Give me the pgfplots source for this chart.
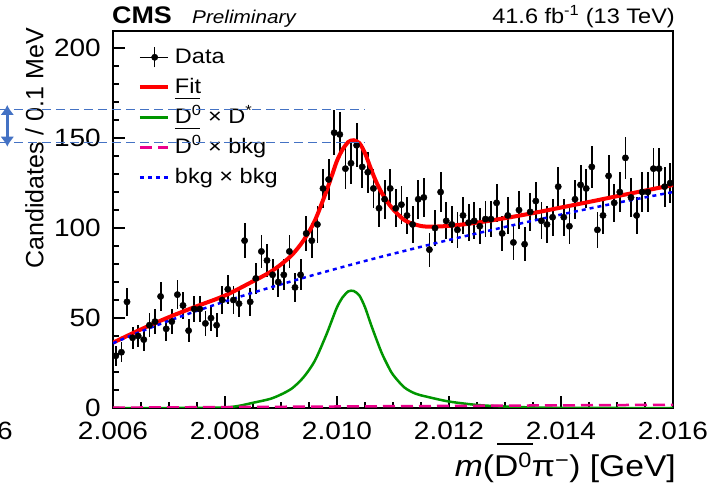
\documentclass[border=0pt]{standalone}
\usepackage{pgfplots}
\pgfplotsset{compat=1.18}
\usepackage{pgfplotstable}
\usepackage{fontspec}
\setmainfont{Liberation Sans}
\newfontfamily\sfst{Liberation Sans}[FakeStretch=1.12]
\usetikzlibrary{arrows.meta}
\definecolor{rootgreen}{RGB}{0,150,0}
\definecolor{annot}{RGB}{68,114,196}

% x = m - 2.006 GeV, in MeV (bin centres, 0.1 MeV bins)
\pgfplotstableread{
x y e
0.05 29 5.4
0.15 31 5.6
0.25 59 7.7
0.35 39 6.2
0.45 40 6.3
0.55 38 6.2
0.65 46 6.8
0.75 48 6.9
0.85 62 7.9
0.95 44 6.6
1.05 48 6.9
1.15 63 7.9
1.25 57 7.5
1.35 43 6.6
1.45 55 7.4
1.55 55 7.4
1.65 47 6.9
1.75 50 7.1
1.85 46 6.8
1.95 60 7.7
2.05 66 8.1
2.15 60 7.7
2.25 58 7.6
2.35 93 9.6
2.45 59 7.7
2.55 72 8.5
2.65 87 9.3
2.75 82 9.1
2.85 74 8.6
2.95 70 8.4
3.05 74 8.6
3.15 87 9.3
3.25 67 8.2
3.35 74 8.6
3.45 97 9.8
3.55 93 9.6
3.65 102 10.1
3.75 122 11.0
3.85 127 11.3
3.95 153 12.4
4.05 152 12.3
4.15 133 11.5
4.25 136 11.7
4.35 146 12.1
4.45 134 11.6
4.55 131 11.4
4.65 122 11.0
4.75 111 10.5
4.85 116 10.8
4.95 122 11.0
5.05 111 10.5
5.15 113 10.6
5.25 107 10.3
5.35 102 10.1
5.45 116 10.8
5.55 117 10.8
5.65 88 9.4
5.75 100 10.0
5.85 120 11.0
5.95 104 10.2
6.05 102 10.1
6.15 99 9.9
6.25 107 10.3
6.35 103 10.1
6.45 104 10.2
6.55 101 10.0
6.65 105 10.2
6.75 105 10.2
6.85 114 10.7
6.95 97 9.8
7.05 107 10.3
7.15 92 9.6
7.25 110 10.5
7.35 91 9.5
7.45 109 10.4
7.55 115 10.7
7.65 104 10.2
7.75 102 10.1
7.85 106 10.3
7.95 123 11.1
8.05 106 10.3
8.15 101 10.0
8.25 116 10.8
8.35 124 11.1
8.45 122 11.0
8.55 134 11.6
8.65 99 9.9
8.75 107 10.3
8.85 129 11.4
8.95 114 10.7
9.05 120 11.0
9.15 139 11.8
9.25 117 10.8
9.35 107 10.3
9.45 120 11.0
9.55 120 11.0
9.65 133 11.5
9.75 133 11.5
9.85 123 11.1
9.95 125 11.2
}\datatab

\begin{document}
\begin{tikzpicture}
\useasboundingbox (-113pt,-79pt) rectangle (594pt,408pt);
\begin{axis}[
  at={(0pt,0pt)}, anchor=south west,
  width=560pt, height=377pt, scale only axis,
  xmin=0, xmax=10, ymin=0, ymax=209.5,
  xtick={0,2,4,6,8,10},
  xticklabels={2.006,2.008,2.010,2.012,2.014,2.016},
  minor xtick={0.5,1,1.5,2.5,3,3.5,4.5,5,5.5,6.5,7,7.5,8.5,9,9.5},
  ytick={0,50,100,150,200},
  yticklabels={0,50,100,150,200},
  minor ytick={10,20,30,40,60,70,80,90,110,120,130,140,160,170,180,190},
  tick align=inside, tick pos=left,
  major tick length=12pt, minor tick length=6pt,
  every tick/.style={black, line width=1.3pt},
  axis line style={line width=1.8pt},
  /pgf/number format/assume math mode=true,
  xticklabel style={font=\sfst\fontsize{25}{25}\selectfont, inner sep=0pt, anchor=north, yshift=-14pt},
  yticklabel style={font=\sfst\fontsize{25}{25}\selectfont, inner sep=0pt, anchor=east, xshift=-12pt},
  legend style={at={(0.0446,0.9594)}, anchor=north west, draw=none, fill=none,
    inner sep=0pt, outer sep=0pt, row sep=8pt, column sep=5pt,
    font=\sfst\fontsize{21}{21}\selectfont,
    nodes={inner sep=0pt, text height=17pt, text depth=5pt}},
  legend cell align=left,
]
\addplot[only marks, mark=*, mark size=3.2pt, black,
  legend image code/.code={\path (0pt,0pt) -- (28pt,0pt);
    \draw[black,line width=1.6pt] (14.7pt,-10pt) -- (14.7pt,10pt);
    \fill[black] (14.7pt,0pt) circle (3.2pt);},
  error bars/.cd, y dir=both, y explicit,
  error bar style={line width=1.8pt, black}, error mark=none]
  table[x=x, y=y, y error=e] {\datatab};
\addlegendentry{Data}

\addplot[red, line width=4pt, smooth,
  legend image code/.code={\draw[red,line width=4pt] (0pt,0pt) -- (28pt,0pt);}]
  coordinates {
  (0.0,36.3) (0.5,43.7) (1.0,50.5) (1.5,56.6) (2.0,62.5) (2.5,70.4)
  (2.8,75.4) (3.0,79.8) (3.2,85.2) (3.4,93.0) (3.6,103.8) (3.8,119.6)
  (3.9,128.4) (4.0,137.4) (4.1,143.7) (4.2,147.8) (4.25,148.6) (4.3,148.8)
  (4.4,147.2) (4.5,141.6) (4.6,133.4) (4.7,125.7) (4.8,119.5) (4.9,114.5)
  (5.0,110.5) (5.2,104.5) (5.4,101.9) (5.6,100.8) (6.0,101.2) (6.5,103.0)
  (7.0,105.5) (7.5,108.3) (8.0,111.4) (8.5,114.5) (9.0,117.7) (9.5,120.8)
  (10.0,123.9)};
\addlegendentry{Fit}

\addplot[rootgreen, line width=2.5pt, smooth,
  legend image code/.code={\draw[rootgreen,line width=2.5pt] (0pt,0pt) -- (28pt,0pt);}]
  coordinates {
  (0,0) (1.0,0) (1.5,0.05) (2.0,0.3) (2.25,1.2) (2.5,2.9) (2.8,5) (3.0,7.5)
  (3.2,11) (3.4,17) (3.6,26) (3.8,40) (3.9,48) (4.0,56) (4.1,61.5)
  (4.2,64.8) (4.25,65.2) (4.3,65) (4.4,62.5) (4.5,56) (4.6,47) (4.7,38.5)
  (4.8,30.5) (4.9,24) (5.0,18.5) (5.2,11.5) (5.4,8) (5.6,6.3) (6.0,3.6)
  (6.5,1.7) (7.0,0.8) (7.5,0.3) (8.0,0.1) (9.0,0) (10.0,0)};
\addlegendentry{\rlap{\raisebox{24pt}{\rule{25pt}{1.3pt}}}D\textsuperscript{0} × D\textsuperscript{*}}

\addplot[magenta, line width=2.5pt, dash pattern=on 12pt off 6pt,
  legend image code/.code={\draw[magenta,line width=2.5pt] (0pt,0pt) -- (28pt,0pt);}]
  coordinates {(0,0.2) (10,1.8)};
\addlegendentry{\rlap{\raisebox{24pt}{\rule{25pt}{1.3pt}}}D\textsuperscript{0} × bkg}

\addplot[blue, line width=2.5pt, dash pattern=on 4pt off 4pt, smooth,
  legend image code/.code={\draw[blue,line width=2.5pt,dash pattern=on 4pt off 4pt] (0pt,0pt) -- (28pt,0pt);}]
  coordinates {
  (0,36.0) (0.5,42.5) (1,48.5) (1.5,54.0) (2,59.2) (2.5,64.1) (3,68.7)
  (3.5,73.2) (4,77.5) (4.5,81.7) (5,85.7) (6,93.4) (7,100.6) (8,107.5)
  (9,114.0) (10,120.0)};
\addlegendentry{bkg × bkg}
\end{axis}

% titles
\node[anchor=base west, inner sep=0pt] at (-1pt,384.7pt) {\sfst\fontsize{24}{24}\selectfont\bfseries CMS};
\node[anchor=base west, inner sep=0pt] at (79pt,384.7pt) {\sfst\fontsize{18.5}{18.5}\selectfont\itshape Preliminary};
\node[anchor=base east, inner sep=0pt] at (562pt,384.7pt) {\sfst\fontsize{21}{21}\selectfont 41.6 fb\textsuperscript{-1} (13 TeV)};
% axis titles
\node[rotate=90, anchor=base east, inner sep=0pt] at (-69.5pt,380pt) {\fontsize{25}{25}\selectfont Candidates / 0.1 MeV};
\node[anchor=base east, inner sep=0pt] at (563pt,-69pt) {\sfst\fontsize{30}{30}\selectfont\itshape m\upshape(\rlap{\kern3pt\raisebox{32pt}{\rule{36pt}{1.5pt}}}D\textsuperscript{0}π\textsuperscript{−}) [GeV]};
\node[anchor=north east, inner sep=0pt] at (-100pt,-14pt) {\sfst\fontsize{25}{25}\selectfont 6};

% annotation
\draw[annot, line width=1.5pt, dash pattern=on 9pt off 5pt] (-113pt,298.7pt) -- (252pt,298.7pt);
\draw[annot, line width=1.5pt, dash pattern=on 9pt off 5pt] (-113pt,265.3pt) -- (252pt,265.3pt);
\draw[annot, line width=3pt, {Latex[width=14pt,length=10pt]}-{Latex[width=14pt,length=10pt]}] (-105.7pt,303pt) -- (-105.7pt,261.3pt);
\end{tikzpicture}
\end{document}
